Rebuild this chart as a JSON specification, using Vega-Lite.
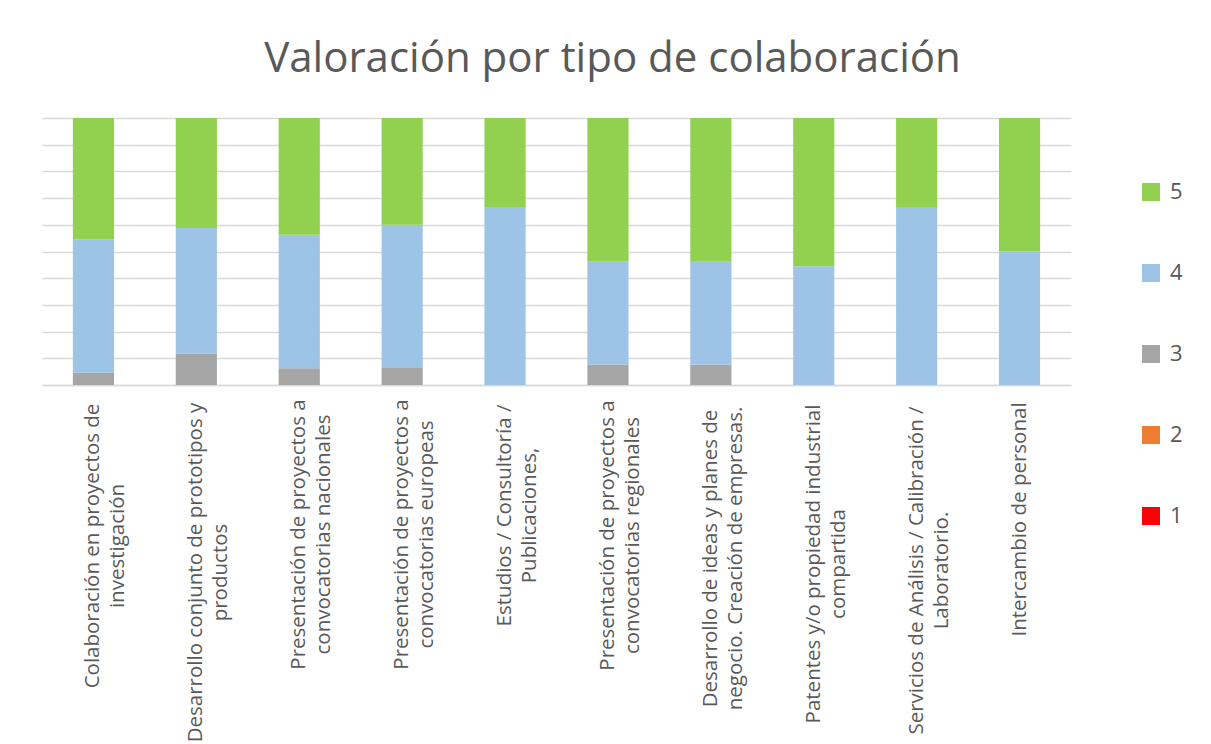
{
  "$schema": "https://vega.github.io/schema/vega-lite/v6.json",
  "width": 1029,
  "height": 267,
  "autosize": "none",
  "padding": {"left": 42, "top": 118, "right": 140, "bottom": 359},
  "background": "white",
  "title": {
    "text": "Valoración por tipo de colaboración",
    "font": "Open Sans",
    "fontSize": 42,
    "fontWeight": "normal",
    "color": "#595959",
    "anchor": "middle",
    "baseline": "alphabetic",
    "offset": 4,
    "dx": 56
  },
  "data": {
    "values": [
      {"tipo": "Colaboración en proyectos de\ninvestigación", "rating": "3", "n": 1},
      {"tipo": "Colaboración en proyectos de\ninvestigación", "rating": "4", "n": 11},
      {"tipo": "Colaboración en proyectos de\ninvestigación", "rating": "5", "n": 10},
      {"tipo": "Desarrollo conjunto de prototipos y\nproductos", "rating": "3", "n": 2},
      {"tipo": "Desarrollo conjunto de prototipos y\nproductos", "rating": "4", "n": 8},
      {"tipo": "Desarrollo conjunto de prototipos y\nproductos", "rating": "5", "n": 7},
      {"tipo": "Presentación de proyectos a\nconvocatorias nacionales", "rating": "3", "n": 1},
      {"tipo": "Presentación de proyectos a\nconvocatorias nacionales", "rating": "4", "n": 8},
      {"tipo": "Presentación de proyectos a\nconvocatorias nacionales", "rating": "5", "n": 7},
      {"tipo": "Presentación de proyectos a\nconvocatorias europeas", "rating": "3", "n": 1},
      {"tipo": "Presentación de proyectos a\nconvocatorias europeas", "rating": "4", "n": 8},
      {"tipo": "Presentación de proyectos a\nconvocatorias europeas", "rating": "5", "n": 6},
      {"tipo": "Estudios / Consultoría /\nPublicaciones,", "rating": "4", "n": 2},
      {"tipo": "Estudios / Consultoría /\nPublicaciones,", "rating": "5", "n": 1},
      {"tipo": "Presentación de proyectos a\nconvocatorias regionales", "rating": "3", "n": 1},
      {"tipo": "Presentación de proyectos a\nconvocatorias regionales", "rating": "4", "n": 5},
      {"tipo": "Presentación de proyectos a\nconvocatorias regionales", "rating": "5", "n": 7},
      {"tipo": "Desarrollo de ideas y planes de\nnegocio. Creación de empresas.", "rating": "3", "n": 1},
      {"tipo": "Desarrollo de ideas y planes de\nnegocio. Creación de empresas.", "rating": "4", "n": 5},
      {"tipo": "Desarrollo de ideas y planes de\nnegocio. Creación de empresas.", "rating": "5", "n": 7},
      {"tipo": "Patentes y/o propiedad industrial\ncompartida", "rating": "4", "n": 4},
      {"tipo": "Patentes y/o propiedad industrial\ncompartida", "rating": "5", "n": 5},
      {"tipo": "Servicios de Análisis / Calibración /\nLaboratorio.", "rating": "4", "n": 2},
      {"tipo": "Servicios de Análisis / Calibración /\nLaboratorio.", "rating": "5", "n": 1},
      {"tipo": "Intercambio de personal", "rating": "4", "n": 1},
      {"tipo": "Intercambio de personal", "rating": "5", "n": 1}
    ]
  },
  "mark": {"type": "bar"},
  "encoding": {
    "x": {
      "field": "tipo",
      "type": "nominal",
      "sort": null,
      "scale": {"paddingInner": 0.6, "paddingOuter": 0.3},
      "axis": {
        "title": null,
        "labelExpr": "split(datum.label, '\\n')",
        "labelAngle": -90,
        "labelAlign": "center",
        "labelBaseline": "middle",
        "labelPadding": {"expr": "16 + 0.5 * [289, 342, 266, 266, 228, 268, 314, 325, 338, 236][indexof(domain('x'), datum.value)]"},
        "labelFont": "Open Sans",
        "labelFontSize": 20.5,
        "labelLineHeight": 25,
        "labelColor": "#595959",
        "labelLimit": 0,
        "labelOverlap": false,
        "ticks": false,
        "domainColor": "#D9D9D9",
        "domainWidth": 1.3
      }
    },
    "y": {
      "field": "n",
      "type": "quantitative",
      "stack": "normalize",
      "axis": {
        "title": null,
        "labels": false,
        "ticks": false,
        "domain": false,
        "values": [0, 0.1, 0.2, 0.3, 0.4, 0.5, 0.6, 0.7, 0.8, 0.9, 1],
        "gridColor": "#D9D9D9",
        "gridWidth": 1.3
      }
    },
    "order": {"field": "rating", "type": "nominal", "sort": "ascending"},
    "color": {
      "field": "rating",
      "type": "nominal",
      "scale": {
        "domain": ["5", "4", "3", "2", "1"],
        "range": ["#92D050", "#9DC3E6", "#A5A5A5", "#ED7D31", "#FF0000"]
      },
      "legend": {
        "title": null,
        "orient": "none",
        "legendX": 1098,
        "legendY": 63,
        "symbolType": "square",
        "symbolSize": 324,
        "symbolStrokeWidth": 0,
        "labelFont": "Open Sans",
        "labelFontSize": 22,
        "labelColor": "#595959",
        "labelOffset": 8,
        "rowPadding": 59,
        "padding": 0
      }
    }
  },
  "config": {
    "view": {"stroke": null}
  }
}
